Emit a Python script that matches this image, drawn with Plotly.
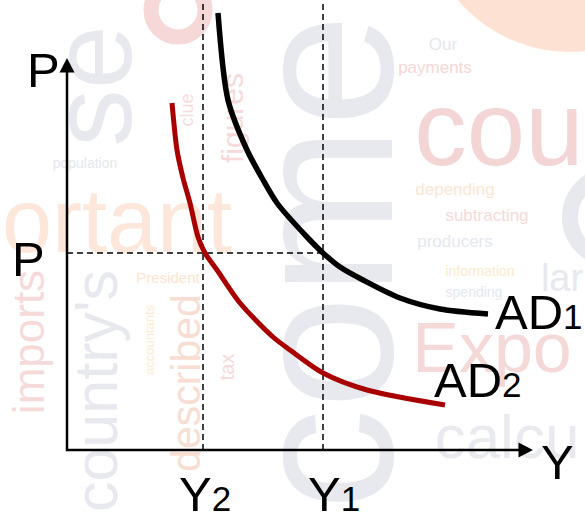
import plotly.graph_objects as go

# ---- Curve data (output Y on the horizontal axis, price level P on the vertical) ----
AD1_Y = [15.1, 16.1, 18.0, 19.5, 21.0, 24.0, 25.6, 27.3, 29.6, 33.3, 37.3, 42.1]
AD1_P = [43.7, 35.0, 30.0, 27.2, 24.7, 21.3, 19.7, 18.3, 17.0, 15.2, 14.1, 13.6]

AD2_Y = [10.5, 11.0, 11.6, 12.3, 13.1, 13.8, 15.0, 17.3, 20.6, 22.3, 25.6, 30.0, 37.8]
AD2_P = [34.7, 30.0, 27.2, 24.7, 21.3, 19.7, 18.0, 14.7, 11.3, 10.0, 7.7, 6.0, 4.5]

P_LEVEL = 19.7     # price level P
Y1_LEVEL = 25.6    # output on AD1 at P
Y2_LEVEL = 13.6    # output on AD2 at P

FONT = "Liberation Sans, Arial, sans-serif"
W, H = 585, 523

# axis ranges: 10 pixels per unit, origin 67 px from the left and 450 px from the top
X_RANGE = [-6.7, 51.8]
Y_RANGE = [-7.3, 45.0]


def px(x, y):
    """Convert a page position in pixels to axis units."""
    return (x - 67) / 10.0, (450 - y) / 10.0


fig = go.Figure()

# ---- faint word-cloud backdrop (drawn below every trace) ----
GRAY = "#e7e9ef"
PINK = "#f4d5d5"
PEACH = "#fde6da"
words = [
    # text, centre x px, centre y px, size, angle, colour
    ("come", 302, 262, 203, -90, GRAY),
    ("se", 80, 86, 115, -90, GRAY),
    ("cou", 499, 118, 105, 0, PINK),
    ("Expo", 492, 341, 70, 0, "#f5d8d8"),
    ("calcu", 507, 430, 62, 0, "#e8eaef"),
    ("ortant", 117, 212, 90, 0, PEACH),
    ("imports", 24, 342, 44, -90, "#f6dada"),
    ("country's", 90, 391, 61, -90, GRAY),
    ("described", 182, 383, 41, -90, "#f8ddd3"),
    ("population", 85, 162, 14, 0, "#e5e7ed"),
    ("Our", 443, 42, 17, 0, "#e4e7ed"),
    ("payments", 435, 65, 17, 0, "#f5d6d6"),
    ("depending", 455, 187, 17, 0, "#fce6d4"),
    ("subtracting", 487, 213, 17, 0, "#f6d9d9"),
    ("producers", 455, 239, 17, 0, "#e5e8ee"),
    ("information", 480, 270, 14, 0, "#faeacd"),
    ("spending", 474, 291, 14, 0, "#e5e8ee"),
    ("lar", 562, 274, 38, 0, "#e7e9ef"),
    ("clue", 185, 110, 18, -90, "#f6dcdc"),
    ("figures", 229, 118, 30, -90, "#f6d9d9"),
    ("President", 168, 276, 15, 0, "#fde4d2"),
    ("accountants", 148, 340, 13, -90, "#fcecd5"),
    ("tax", 225, 367, 20, -90, "#f6dada"),
]

shapes = []


def disc(cx, cy, r, **style):
    x0, y0 = px(cx - r, cy + r)
    x1, y1 = px(cx + r, cy - r)
    return dict(type="circle", xref="x", yref="y", x0=x0, x1=x1, y0=y0, y1=y1,
                layer="below", **style)


# soft peach disc in the top-right corner, plus two faint letter rings
shapes.append(disc(570, -95, 147, fillcolor="#fde2d4", line=dict(width=0)))
shapes.append(disc(612, 217, 42, fillcolor="rgba(0,0,0,0)", line=dict(width=16, color="#e7e9ef")))
shapes.append(disc(178, 10, 27, fillcolor="rgba(0,0,0,0)", line=dict(width=15, color="#f6d8d8")))

for text, wx, wy, size, angle, color in words:
    ux, uy = px(wx, wy)
    shapes.append(dict(
        type="rect", xref="x", yref="y",
        x0=ux - 0.01, x1=ux + 0.01, y0=uy - 0.01, y1=uy + 0.01,
        line=dict(width=0), fillcolor="rgba(0,0,0,0)", layer="below",
        label=dict(text=text, textangle=angle, textposition="middle center",
                   font=dict(family=FONT, size=size, color=color)),
    ))

# ---- reference lines ----
DASH = "6px,4px"
fig.add_trace(go.Scatter(x=[0, Y1_LEVEL], y=[P_LEVEL, P_LEVEL], mode="lines",
                         line=dict(color="black", width=1.5, dash=DASH), hoverinfo="skip"))
fig.add_trace(go.Scatter(x=[Y2_LEVEL, Y2_LEVEL], y=[0, Y_RANGE[1]], mode="lines",
                         line=dict(color="black", width=1.5, dash=DASH), hoverinfo="skip"))
fig.add_trace(go.Scatter(x=[Y1_LEVEL, Y1_LEVEL], y=[0, Y_RANGE[1]], mode="lines",
                         line=dict(color="black", width=1.5, dash=DASH), hoverinfo="skip"))

# ---- demand curves ----
fig.add_trace(go.Scatter(x=AD1_Y, y=AD1_P, mode="lines", name="AD1",
                         line=dict(color="black", width=5.5, shape="spline", smoothing=0.8)))
fig.add_trace(go.Scatter(x=AD2_Y, y=AD2_P, mode="lines", name="AD2",
                         line=dict(color="#a80000", width=5, shape="spline", smoothing=0.8)))

# ---- axes drawn as arrows ----
V_TIP, H_TIP = 39.2, 46.6
HEAD_LEN, HEAD_HALF = 1.45, 0.75
fig.add_trace(go.Scatter(x=[0, 0, H_TIP - HEAD_LEN + 0.1], y=[V_TIP - HEAD_LEN + 0.1, 0, 0],
                         mode="lines", line=dict(color="black", width=2.5), hoverinfo="skip"))
shapes.append(dict(type="path", xref="x", yref="y", layer="above",
                   path=f"M {-HEAD_HALF},{V_TIP - HEAD_LEN} L 0,{V_TIP} L {HEAD_HALF},{V_TIP - HEAD_LEN} Z",
                   fillcolor="black", line=dict(width=0)))
shapes.append(dict(type="path", xref="x", yref="y", layer="above",
                   path=f"M {H_TIP - HEAD_LEN},{-HEAD_HALF} L {H_TIP},0 L {H_TIP - HEAD_LEN},{HEAD_HALF} Z",
                   fillcolor="black", line=dict(width=0)))

# ---- labels ----
SUB = "<span style='font-size:35px'>{}</span>"
labels = [
    ("P", 43.5, 70),
    ("P", 28, 259),
    ("Y", 557.5, 462),
    ("Y" + SUB.format("2"), 205, 494),
    ("Y" + SUB.format("1"), 334, 494),
    ("AD" + SUB.format("1"), 538.5, 312),
    ("AD" + SUB.format("2"), 477.5, 380),
]
annotations = []
for text, lx, ly in labels:
    ux, uy = px(lx, ly)
    annotations.append(dict(x=ux, y=uy, xref="x", yref="y", text=text, showarrow=False,
                            xanchor="center", yanchor="middle",
                            font=dict(family=FONT, size=49, color="black")))

fig.update_layout(
    width=W, height=H,
    margin=dict(l=0, r=0, t=0, b=0),
    paper_bgcolor="white", plot_bgcolor="white",
    showlegend=False,
    xaxis=dict(range=X_RANGE, visible=False, fixedrange=True),
    yaxis=dict(range=Y_RANGE, visible=False, fixedrange=True),
    shapes=shapes,
    annotations=annotations,
)

fig.write_html("out.html")
